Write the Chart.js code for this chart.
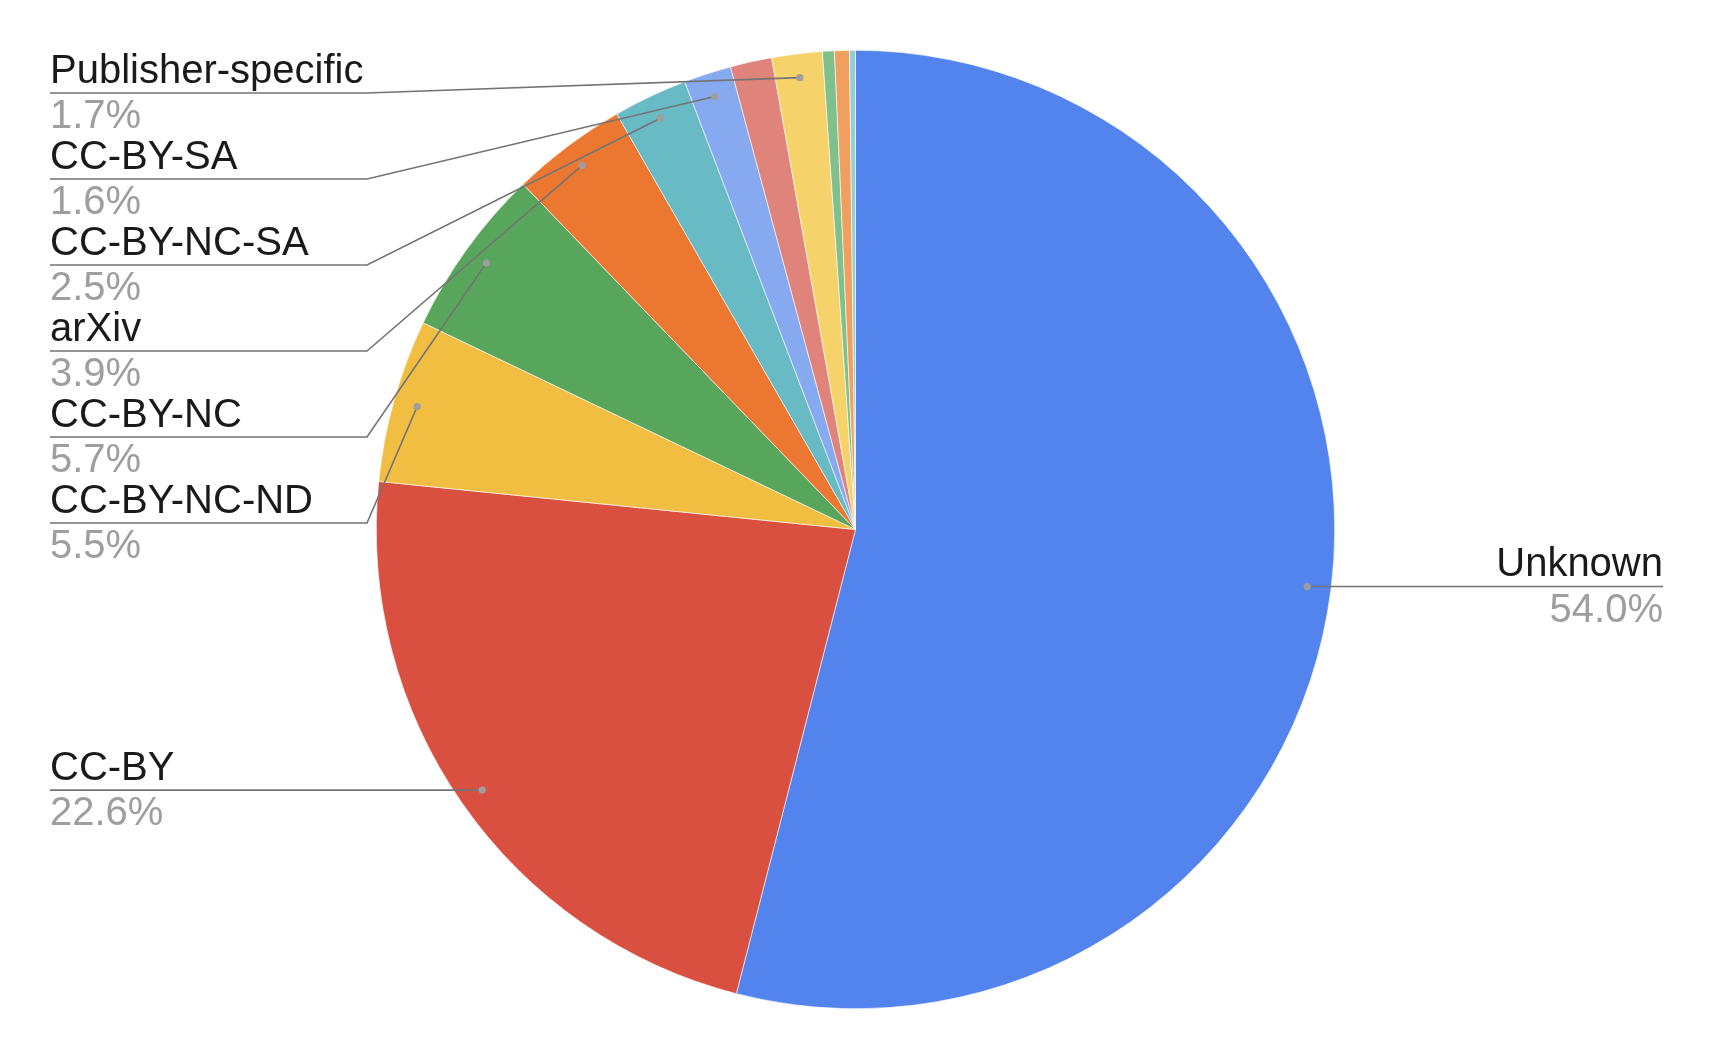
<!DOCTYPE html>
<html>
<head>
<meta charset="utf-8">
<title>Licenses</title>
<script src="https://cdn.jsdelivr.net/npm/chart.js@4.4.1/dist/chart.umd.min.js"></script>
<style>
    html, body { margin: 0; padding: 0; background: #fff; }
    #box { width: 1717px; height: 1051px; }
</style>
</head>
<body>
<div id="box"><canvas id="licencasChart"></canvas></div>
<script>
// fatias em ordem, a partir do topo, sentido horario
// (nomes vazios = fatias pequenas sem rotulo no original)
var categorias = ['Unknown', 'CC-BY', 'CC-BY-NC-ND', 'CC-BY-NC', 'arXiv', 'CC-BY-NC-SA',
    'CC-BY-SA', '', 'Publisher-specific', '', '', ''];
var valores = [54.0, 22.6, 5.5, 5.7, 3.9, 2.5, 1.6, 1.4, 1.7, 0.4, 0.5, 0.2];
var cores = ['#5383EC', '#D95040', '#F2BE42', '#58A65C', '#EC7731', '#68BAC4',
    '#87A9F0', '#E0837A', '#F5D26A', '#80C08C', '#F09F5E', '#92D0D6'];

var fonte = "'Liberation Sans', Arial, sans-serif";

var rotulosPlugin = {
    id: 'rotulos',
    afterDatasetsDraw: function(chart) {
        var ctx = chart.ctx;
        var arcos = chart.getDatasetMeta(0).data;
        var total = 0;
        for (var i = 0; i < valores.length; i++) {
            total += valores[i];
        }

        var esquerda = [];
        var direita = [];
        for (var i = 0; i < arcos.length; i++) {
            if (!categorias[i]) continue;
            var a = arcos[i];
            var meio = (a.startAngle + a.endAngle) / 2;
            var r = a.outerRadius * 0.95;
            var item = {
                nome: categorias[i],
                pct: (valores[i] / total * 100).toFixed(1) + '%',
                px: a.x + Math.cos(meio) * r,
                py: a.y + Math.sin(meio) * r
            };
            if (Math.cos(meio) < 0) {
                esquerda.push(item);
            } else {
                direita.push(item);
            }
        }

        esquerda.sort(function(a, b) { return a.py - b.py; });
        var anterior = 93 - 86;
        for (var i = 0; i < esquerda.length; i++) {
            esquerda[i].ly = Math.max(esquerda[i].py, anterior + 86);
            anterior = esquerda[i].ly;
        }
        direita.sort(function(a, b) { return a.py - b.py; });
        anterior = 93 - 86;
        for (var i = 0; i < direita.length; i++) {
            direita[i].ly = Math.max(direita[i].py, anterior + 86);
            anterior = direita[i].ly;
        }

        ctx.save();
        ctx.lineWidth = 1.6;
        ctx.strokeStyle = '#747474';
        ctx.font = "40px " + fonte;

        for (var i = 0; i < esquerda.length; i++) {
            var it = esquerda[i];
            ctx.beginPath();
            ctx.moveTo(50, it.ly);
            if (Math.abs(it.ly - it.py) < 1) {
                ctx.lineTo(it.px, it.py);
            } else {
                ctx.lineTo(367, it.ly);
                ctx.lineTo(it.px, it.py);
            }
            ctx.stroke();
            desenharPonto(ctx, it.px, it.py);
            ctx.textAlign = 'left';
            ctx.fillStyle = '#1a1a1a';
            ctx.fillText(it.nome, 50, it.ly - 10.5);
            ctx.fillStyle = '#9e9e9e';
            ctx.fillText(it.pct, 50, it.ly + 35);
        }

        for (var i = 0; i < direita.length; i++) {
            var it = direita[i];
            ctx.beginPath();
            ctx.moveTo(it.px, it.py);
            if (Math.abs(it.ly - it.py) >= 1) {
                ctx.lineTo(1346, it.ly);
            }
            ctx.lineTo(1663, it.ly);
            ctx.stroke();
            desenharPonto(ctx, it.px, it.py);
            ctx.textAlign = 'right';
            ctx.fillStyle = '#1a1a1a';
            ctx.fillText(it.nome, 1663, it.ly - 10.5);
            ctx.fillStyle = '#9e9e9e';
            ctx.fillText(it.pct, 1663, it.ly + 35);
        }
        ctx.restore();
    }
};

function desenharPonto(ctx, x, y) {
    ctx.beginPath();
    ctx.arc(x, y, 3.6, 0, Math.PI * 2);
    ctx.fillStyle = '#9e9e9e';
    ctx.fill();
}

new Chart(document.getElementById('licencasChart'), {
    type: 'pie',
    data: {
        labels: categorias,
        datasets: [{
            data: valores,
            backgroundColor: cores,
            borderColor: '#ffffff',
            borderWidth: 0.6,
            hoverOffset: 0
        }]
    },
    options: {
        responsive: true,
        maintainAspectRatio: false,
        animation: false,
        layout: {
            padding: { left: 376, right: 382, top: 50, bottom: 42 }
        },
        plugins: {
            legend: { display: false },
            tooltip: { enabled: false }
        }
    },
    plugins: [rotulosPlugin]
});
</script>
</body>
</html>
